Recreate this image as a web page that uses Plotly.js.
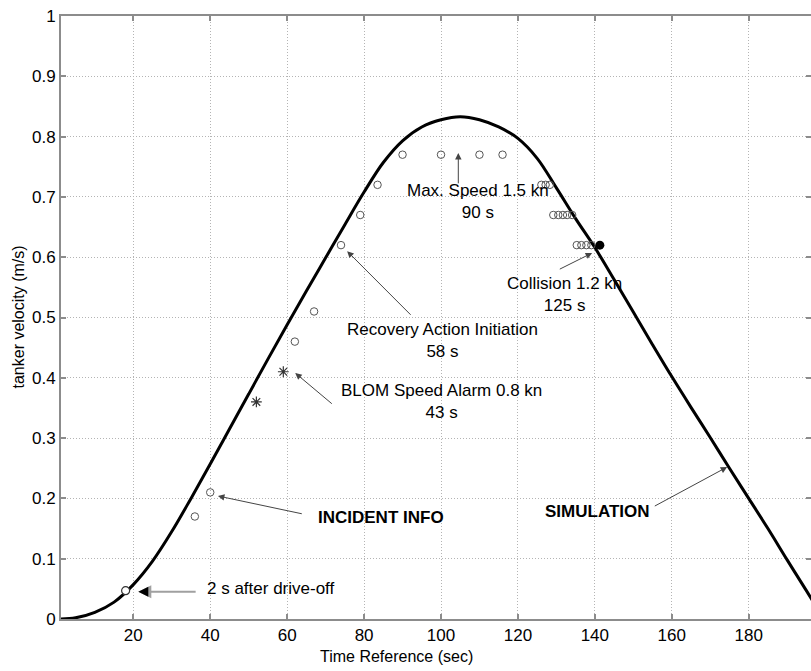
<!DOCTYPE html>
<html>
<head>
<meta charset="utf-8">
<script src="https://cdn.plot.ly/plotly-3.0.1.min.js"></script>
<style>html,body{margin:0;padding:0;background:#fff;}#chart{width:811px;height:671px;}</style>
</head>
<body>
<div id="chart"></div>
<script>
// Simulation curve (time in s, tanker velocity in m/s)
const simTime = [1,5,10,15,20,25,30,35,40,45,50,55,60,65,70,75,80,85,90,95,100,105,110,115,120,125,130,135,140,145,150,155,160,165,170,175,180,185,190,195,199.5];
const simVel  = [0,0.002,0.011,0.028,0.057,0.096,0.145,0.200,0.257,0.315,0.373,0.431,0.488,0.544,0.599,0.654,0.708,0.757,0.793,0.816,0.828,0.833,0.828,0.816,0.797,0.764,0.715,0.664,0.616,0.563,0.509,0.455,0.402,0.351,0.301,0.250,0.200,0.150,0.098,0.047,0];

// Incident info points (open circles)
const incTime = [36,40,62,67,74,79,83.5,90,100,110,116,126.1,127.2,128.3,129.2,130.5,131.7,132.8,134.1,135.3,136.5,137.8,139.1];
const incVel  = [0.17,0.21,0.46,0.51,0.62,0.67,0.72,0.77,0.77,0.77,0.77,0.72,0.72,0.72,0.67,0.67,0.67,0.67,0.67,0.62,0.62,0.62,0.62];

// BLOM speed alarm points (asterisks)
const alarmTime = [52,59];
const alarmVel  = [0.36,0.41];

// Drive-off start point and collision point
const startTime = [18];
const startVel  = [0.047];
const collTime  = [141.3];
const collVel   = [0.62];

const xTicks = [20,40,60,80,100,120,140,160,180];
const yTicks = [0,0.1,0.2,0.3,0.4,0.5,0.6,0.7,0.8,0.9,1];

// Annotations: [text, textX, textY, anchor, bold, headX, headY, tailX, tailY, arrowColor, arrowWidth]
const notes = [
  ["2 s after drive-off", 38.7, 0.050, "left", false, 21.3, 0.045, 36.6, 0.045, "#a0a0a0", 2],
  ["INCIDENT INFO", 67.5, 0.169, "left", true, 42.0, 0.204, 64.2, 0.174, "#444", 1],
  ["BLOM Speed Alarm 0.8 kn<br>43 s", 100.0, 0.361, "center", false, 62.1, 0.408, 72.0, 0.355, "#444", 1],
  ["Recovery Action Initiation<br>58 s", 100.3, 0.462, "center", false, 75.6, 0.610, 92.5, 0.502, "#444", 1],
  ["Max. Speed 1.5 kn<br>90 s", 109.5, 0.693, "center", false, 104.5, 0.773, 104.5, 0.720, "#444", 1],
  ["Collision 1.2 kn<br>125 s", 132.0, 0.538, "center", false, 139.3, 0.607, 130.5, 0.579, "#444", 1],
  ["SIMULATION", 126.6, 0.179, "left", true, 174.4, 0.252, 155.2, 0.186, "#444", 1]
];

const font = "Liberation Sans, Arial, sans-serif";

const traces = [
  {x: simTime, y: simVel, type: "scatter", mode: "lines",
   line: {color: "#000", width: 3, shape: "spline", smoothing: 1}, hoverinfo: "skip"},
  {x: incTime, y: incVel, type: "scatter", mode: "markers",
   marker: {symbol: "circle-open", size: 7.5, color: "#555", line: {width: 1, color: "#555"}}},
  {x: alarmTime, y: alarmVel, type: "scatter", mode: "markers",
   marker: {symbol: "asterisk-open", size: 9, color: "#333", line: {width: 1.2, color: "#333"}}},
  {x: startTime, y: startVel, type: "scatter", mode: "markers",
   marker: {symbol: "circle", size: 8, color: "#fff", line: {width: 1.2, color: "#333"}}},
  {x: collTime, y: collVel, type: "scatter", mode: "markers",
   marker: {symbol: "circle", size: 9, color: "#000", line: {width: 0}}}
];

const annotations = [];
notes.forEach(n => {
  annotations.push({
    x: n[5], y: n[6], ax: n[7], ay: n[8], axref: "x", ayref: "y", xref: "x", yref: "y",
    text: "", showarrow: true, arrowhead: 2, arrowsize: 1.3, arrowwidth: n[10], arrowcolor: n[9], standoff: 0, startstandoff: 0
  });
  annotations.push({
    x: n[1], y: n[2], xref: "x", yref: "y", showarrow: false, xanchor: n[3], yanchor: "middle", align: "center",
    text: n[4] ? "<b>" + n[0] + "</b>" : n[0],
    font: {family: font, size: 17, color: "#000"}
  });
});
// black head on the grey "2 s" arrow
annotations.push({
  x: 21.3, y: 0.045, ax: 24.0, ay: 0.045, axref: "x", ayref: "y", xref: "x", yref: "y",
  text: "", showarrow: true, arrowhead: 2, arrowsize: 2, arrowwidth: 1, arrowcolor: "#000", standoff: 0
});
annotations.push({
  x: 0.4467, y: 0, xref: "paper", yref: "paper", yshift: -37, xanchor: "center", yanchor: "middle",
  showarrow: false, text: "Time Reference (sec)", font: {family: font, size: 16, color: "#000"}
});
annotations.push({
  x: 0, y: 0.5, xref: "paper", yref: "paper", xshift: -43, xanchor: "center", yanchor: "middle", textangle: -90,
  showarrow: false, text: "tanker velocity (m/s)", font: {family: font, size: 16, color: "#000"}
});

const axisCommon = {
  showline: true, linecolor: "#8c8c8c", linewidth: 2, mirror: "ticks",
  ticks: "inside", ticklen: 5, tickwidth: 2, tickcolor: "#8c8c8c",
  showgrid: true, gridcolor: "#b4b4b4", gridwidth: 1, griddash: "1px,2px",
  zeroline: false, tickfont: {family: font, size: 17, color: "#000"}
};

const layout = {
  width: 811, height: 671,
  margin: {l: 61, r: 0, t: 16, b: 52, pad: 0},
  paper_bgcolor: "#fff", plot_bgcolor: "#fff",
  showlegend: false,
  xaxis: Object.assign({}, axisCommon, {range: [1.2, 196.2], tickvals: xTicks, ticktext: xTicks.map(String)}),
  yaxis: Object.assign({}, axisCommon, {range: [0, 1], tickvals: yTicks, ticktext: yTicks.map(String)}),
  annotations: annotations
};

Plotly.newPlot("chart", traces, layout, {displayModeBar: false, staticPlot: true});
</script>
</body>
</html>
